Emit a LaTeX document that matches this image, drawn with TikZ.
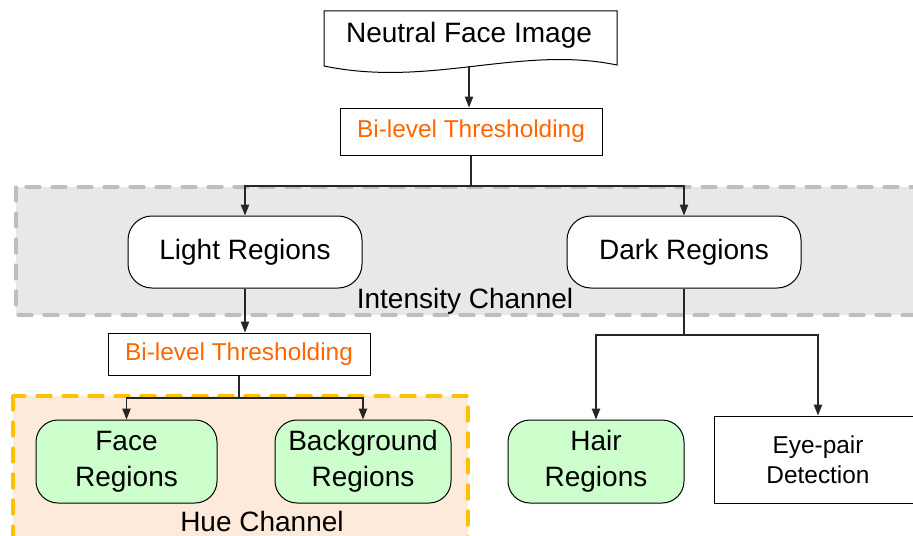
\documentclass[tikz,border=0pt]{standalone}
\usepackage{fontspec}
\setmainfont{Liberation Sans}
\usetikzlibrary{positioning,calc,arrows.meta}

\definecolor{thrOrange}{RGB}{255,102,0}
\definecolor{regGreen}{RGB}{204,255,204}
\definecolor{hueFill}{RGB}{253,234,218}
\definecolor{hueDash}{RGB}{255,192,0}
\definecolor{intFill}{RGB}{232,232,232}
\definecolor{intDash}{RGB}{190,190,190}

\begin{document}
\begin{tikzpicture}
        [x=0.5pt,y=-0.5pt,
        every node/.style={align=center,inner sep=0pt,line width=0.5pt},
        big/.style={font=\fontsize{14pt}{18pt}\selectfont},
        small/.style={font=\fontsize{12.2pt}{15pt}\selectfont},
        thrbox/.style={draw,fill=white,small,text=thrOrange,minimum width=131pt},
        regbox/.style={draw,fill=white,rounded corners=12pt,big,minimum width=117pt,minimum height=36pt},
        leafbox/.style={regbox,fill=regGreen,rounded corners=11pt,minimum height=41.5pt},
        channel/.style={line width=1.6pt,dash pattern=on 7pt off 6pt,line cap=round},
        conn/.style={line width=0.6pt,draw=black!85},
        arr/.style={conn,-{Triangle[length=5.5pt,width=4.2pt]}}]
        \clip (0,0) rectangle (913,535);
        % channels
        \draw[channel,fill=intFill,draw=intDash] (16,187) rectangle (940,315);
        \draw[channel,fill=hueFill,draw=hueDash] (13,396) rectangle (468,545);
        % input image
        \draw[line width=0.5pt,fill=white] (324,11) -- (617,11) -- (617,65)
            .. controls (520,45) and (430,88) .. (324,66) -- cycle;
        \node[big] (img) at (469,35) {Neutral Face Image};
        \coordinate (imgbot) at (469,66);
        % boxes
        \node[thrbox,minimum height=23.5pt] (thr1) at (471,131.5) {Bi-level Thresholding};
        \node[regbox] (light) at (245,252) {Light Regions};
        \node[regbox] (dark) at (684,252) {Dark Regions};
        \node[big] (intlabel) at (465,301) {Intensity Channel};
        \node[thrbox,minimum height=21pt] (thr2) at (239,354) {Bi-level Thresholding};
        \node[leafbox,minimum width=90.5pt] (face) at (126.5,461.5) {Face\\Regions};
        \node[leafbox,minimum width=88pt] (bg) at (363,461.5) {Background\\Regions};
        \node[leafbox,minimum width=88pt] (hair) at (596,461.5) {Hair\\Regions};
        \node[draw,fill=white,small,minimum width=104pt,minimum height=43.5pt] (eye) at (818,459.5) {Eye-pair\\Detection};
        \node[big] (huelabel) at (262,521) {Hue Channel};
        % connectors
        \coordinate (split1) at (471,186);
        \coordinate (split2) at (239,398);
        \coordinate (split3) at (684,335);
        \draw[arr] (imgbot) -- (imgbot |- thr1.north);
        \draw[conn] (thr1.south) -- (split1);
        \draw[arr] (split1) -| (light.north);
        \draw[arr] (split1) -| (dark.north);
        \draw[arr] (light.south) -- (light.south |- thr2.north);
        \draw[conn] (thr2.south) -- (split2);
        \draw[arr] (split2) -| (face.north);
        \draw[arr] (split2) -| (bg.north);
        \draw[conn] (dark.south) -- (split3);
        \draw[arr] (split3) -| (hair.north);
        \draw[arr] (split3) -| (eye.north);
\end{tikzpicture}
\end{document}
